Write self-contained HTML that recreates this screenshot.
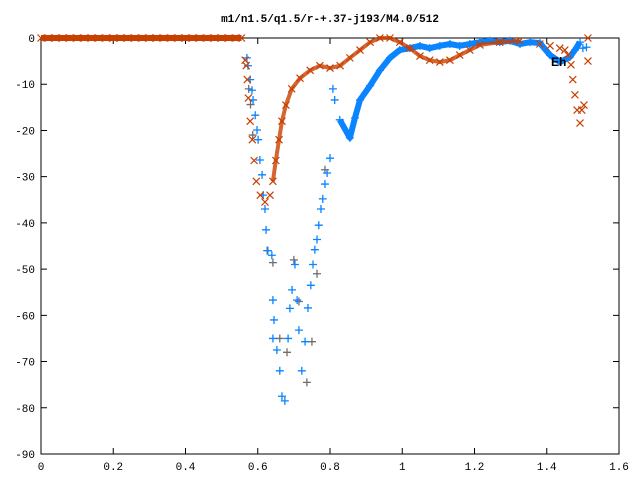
<!DOCTYPE html>
<html><head><meta charset="utf-8"><style>
body{margin:0;background:#fff}
svg{display:block;font-family:"Liberation Mono",monospace}
</style></head><body>
<svg id="chart" width="640" height="480" viewBox="0 0 640 480">
<text x="330" y="22" font-size="11" text-anchor="middle" font-weight="bold">m1/n1.5/q1.5/r-+.37-j193/M4.0/512</text>
<g id="axes"></g>
<g id="marks"></g>
<text x="551" y="66" font-size="12" font-weight="bold" font-family="Liberation Sans,sans-serif">Eh</text>
</svg>
<script>
const xTicks=[0,0.2,0.4,0.6,0.8,1,1.2,1.4,1.6];
const xTickLabels=["0","0.2","0.4","0.6","0.8","1","1.2","1.4","1.6"];
const yTicks=[0,-10,-20,-30,-40,-50,-60,-70,-80,-90];
const orangeX=[0,0.02,0.04,0.06,0.08,0.1,0.12,0.14,0.16,0.18,0.2,0.22,0.24,0.26,0.28,0.3,0.32,0.34,0.36,0.38,0.4,0.42,0.44,0.46,0.48,0.5,0.52,0.54,0.555,0.565,0.568,0.571,0.574,0.579,0.585,0.59,0.596,0.607,0.62,0.634,0.642,0.65,0.659,0.667,0.678,0.694,0.717,0.745,0.772,0.8,0.828,0.855,0.883,0.911,0.938,0.966,0.993,1.021,1.049,1.076,1.104,1.132,1.159,1.187,1.215,1.27,1.325,1.381,1.409,1.436,1.45,1.459,1.467,1.472,1.478,1.484,1.492,1.497,1.503,1.514,1.514];
const orangeY=[0,0,0,0,0,0,0,0,0,0,0,0,0,0,0,0,0,0,0,0,0,0,0,0,0,0,0,0,0,-4.8,-6,-9,-13,-18,-22,-26.5,-31,-34,-35.5,-34,-31,-26.5,-22,-18,-14.5,-11,-8.7,-7,-6,-6.5,-6,-4.3,-2.6,-0.9,0,0,-0.9,-2.2,-3.9,-4.8,-5.2,-4.8,-3.7,-2.6,-1.5,-0.9,-0.6,-1.3,-1.7,-2.2,-2.6,-3.7,-5.8,-9,-12.3,-15.6,-18.4,-15.6,-14.5,0,-5];
const blueX=[0.57,0.573,0.579,0.584,0.587,0.593,0.598,0.601,0.606,0.612,0.615,0.62,0.623,0.628,0.639,0.642,0.645,0.642,0.653,0.661,0.667,0.675,0.684,0.689,0.695,0.703,0.709,0.714,0.722,0.731,0.739,0.747,0.753,0.758,0.764,0.769,0.775,0.78,0.786,0.792,0.8,0.808,0.813,0.827,0.855,0.869,0.883,0.911,0.938,0.966,0.993,1.021,1.049,1.076,1.104,1.132,1.159,1.187,1.215,1.243,1.27,1.298,1.326,1.354,1.381,1.409,1.437,1.464,1.478,1.492,1.5,1.51];
const blueY=[-4.3,-6,-9,-11.3,-13.4,-16.7,-19.9,-22,-26.4,-29.6,-34,-37,-41.5,-46,-47,-56.7,-61,-65,-67.5,-72,-77.5,-78.5,-65,-58.5,-54.5,-49,-56.7,-63.2,-72,-65.7,-58.4,-53.5,-49,-45.8,-43.6,-40.5,-37,-34.8,-31.6,-29.2,-26,-11,-13.4,-17.7,-21.6,-17.3,-13.4,-10.3,-7,-4.3,-2.6,-2.2,-1.7,-2.2,-1.7,-1.3,-1.7,-1.3,-0.9,-0.6,-0.9,-0.6,-1.3,-0.9,-1.1,-3.7,-5.2,-4.1,-2.6,-0.9,-2.2,-2];
const grayX=[0.575,0.58,0.586,0.626,0.642,0.661,0.681,0.7,0.714,0.736,0.75,0.764,0.786];
const grayY=[-11,-14.4,-21,-46,-48.6,-65,-68,-48,-57,-74.5,-65.7,-51,-28.5];
const X0=41,X1=619,Y0=38,Y1=454;
const sx=v=>X0+(v-0)/1.6*(X1-X0);
const sy=v=>Y0+(0-v)/90*(Y1-Y0);
const NS="http://www.w3.org/2000/svg";
const axes=document.getElementById('axes'),marks=document.getElementById('marks');
function mk(tag,attrs,parent){const e=document.createElementNS(NS,tag);for(const k in attrs)e.setAttribute(k,attrs[k]);parent.appendChild(e);return e;}
const frame=mk('rect',{x:X0,y:Y0,width:X1-X0,height:Y1-Y0,fill:'none',stroke:'#000','stroke-width':1},axes);


xTicks.forEach((t,i)=>{const x=sx(t);
 const l=mk('path',{d:`M${x} ${Y1}v-6M${x} ${Y0}v6`,stroke:'#000'},axes);
 
 
 const tx=mk('text',{x:x,y:Y1+16,'font-size':11,'text-anchor':'middle'},axes);tx.textContent=xTickLabels[i];
 
 });
yTicks.forEach(t=>{const y=sy(t);
 const l=mk('path',{d:`M${X0} ${y}h6M${X1} ${y}h-6`,stroke:'#000'},axes);
 
 
 const tx=mk('text',{x:X0-6,y:y+4,'font-size':11,'text-anchor':'end'},axes);tx.textContent=String(t);
 
 });
function plus(x,y,c){return mk('path',{d:`M${x-4} ${y}h8M${x} ${y-4}v8`,stroke:c,'stroke-width':1.3,fill:'none'},marks);}
function cross(x,y,c){return mk('path',{d:`M${x-3.5} ${y-3.5}l7 7M${x-3.5} ${y+3.5}l7 -7`,stroke:c,'stroke-width':1.2,fill:'none'},marks);}
grayX.forEach((v,i)=>{const p=plus(sx(v),sy(grayY[i]),'#6e6e6e');
 
 });
function band(xs,ys,from,to){let d='';for(let i=from;i<=to;i++){d+=(i>from?'L':'M')+sx(xs[i])+' '+sy(ys[i]);}return d;}
blueX.forEach((v,i)=>{const p=plus(sx(v),sy(blueY[i]),'#0a84ff');
 
 });
const bl=mk('path',{d:band(blueX,blueY,43,blueX.length-3),stroke:'#0a84ff','stroke-width':6,fill:'none','stroke-linejoin':'round'},marks);


const ol1=mk('path',{d:band(orangeX,orangeY,0,28),stroke:'#c84000','stroke-width':6,fill:'none'},marks);


const ol=mk('path',{d:band(orangeX,orangeY,40,66),stroke:'#c84000','stroke-width':4,fill:'none','stroke-linejoin':'round','stroke-opacity':0.8},marks);


orangeX.forEach((v,i)=>{const p=cross(sx(v),sy(orangeY[i]),'#c84000');
 
 });
</script>
</body></html>
